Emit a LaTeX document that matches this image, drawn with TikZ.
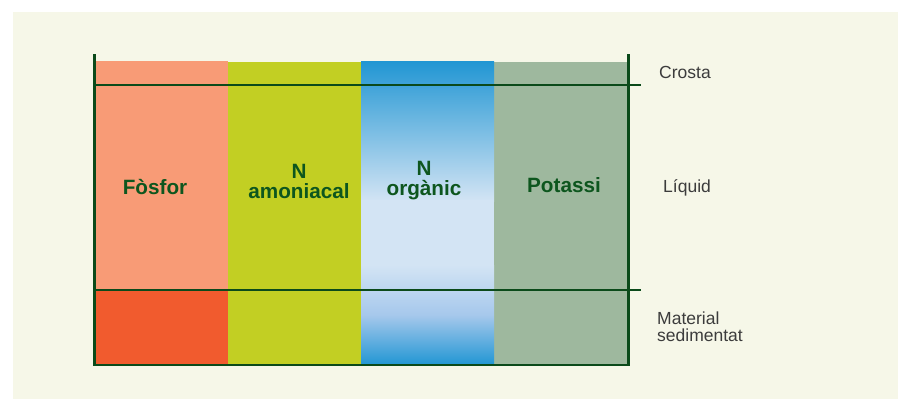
\documentclass[tikz,border=0pt]{standalone}
\usepackage{fontspec}
\setmainfont{Liberation Sans}
\definecolor{bgcream}{HTML}{F6F7E8}
\definecolor{salmon}{HTML}{F89B76}
\definecolor{orangered}{HTML}{F15B2E}
\definecolor{lime}{HTML}{C2CF23}
\definecolor{sage}{HTML}{9EB89E}
\definecolor{skyblue}{HTML}{2196D3}
\definecolor{paleblue}{HTML}{D3E4F4}
\definecolor{midblue}{HTML}{A6C8EC}
\definecolor{wallgreen}{HTML}{0B4A1A}
\definecolor{textgreen}{HTML}{0D561E}
\definecolor{labelgray}{HTML}{3C3C3C}
\tikzset{
  colname/.style={font=\fontsize{20.7}{20}\selectfont\bfseries, text=textgreen, align=center, inner sep=0pt},
  sidelabel/.style={font=\fontsize{17.5}{17}\selectfont, text=labelgray, align=left, anchor=west, inner sep=0pt},
  wall/.style={draw=wallgreen, line width=2.6pt},
  level/.style={draw=wallgreen, line width=1.5pt}
}
\begin{document}
\begin{tikzpicture}[x=1pt,y=-1pt]
\useasboundingbox (0,0) rectangle (898,399);
\fill[white] (0,0) rectangle (898,399);
\fill[bgcream] (13,12) rectangle (898,399);
% columns
\fill[salmon] (95,61) rectangle (228,290);
\fill[orangered] (95,290) rectangle (228,365);
\fill[lime] (228,62) rectangle (361,365);
\fill[sage] (494,62) rectangle (628,365);
% blue column
\shade[top color=skyblue, bottom color=paleblue] (361,61) rectangle (494,201);
\fill[paleblue] (361,200) rectangle (494,266);
\shade[top color=paleblue, bottom color=skyblue, middle color=midblue] (361,265) rectangle (494,365);
% levels
\draw[level] (95,85) -- (641,85);
\draw[level] (95,290) -- (641,290);
% walls
\draw[wall] (94.5,54) -- (94.5,365) -- (628.5,365) -- (628.5,54);
% column names
\node[colname] (fosfor) at (155,187) {Fòsfor};
\node[colname] (namon) at (299,181) {N\\amoniacal};
\node[colname] (norg) at (424,181) {N\\orgànic};
\node[colname] (potassi) at (564,185) {Potassi};
% side labels
\node[sidelabel] (crosta) at (659,72) {Crosta};
\node[sidelabel] (liquid) at (663,188) {Líquid};
\node[sidelabel] (sediment) at (657,326.5) {Material\\sedimentat};
\end{tikzpicture}
\end{document}
